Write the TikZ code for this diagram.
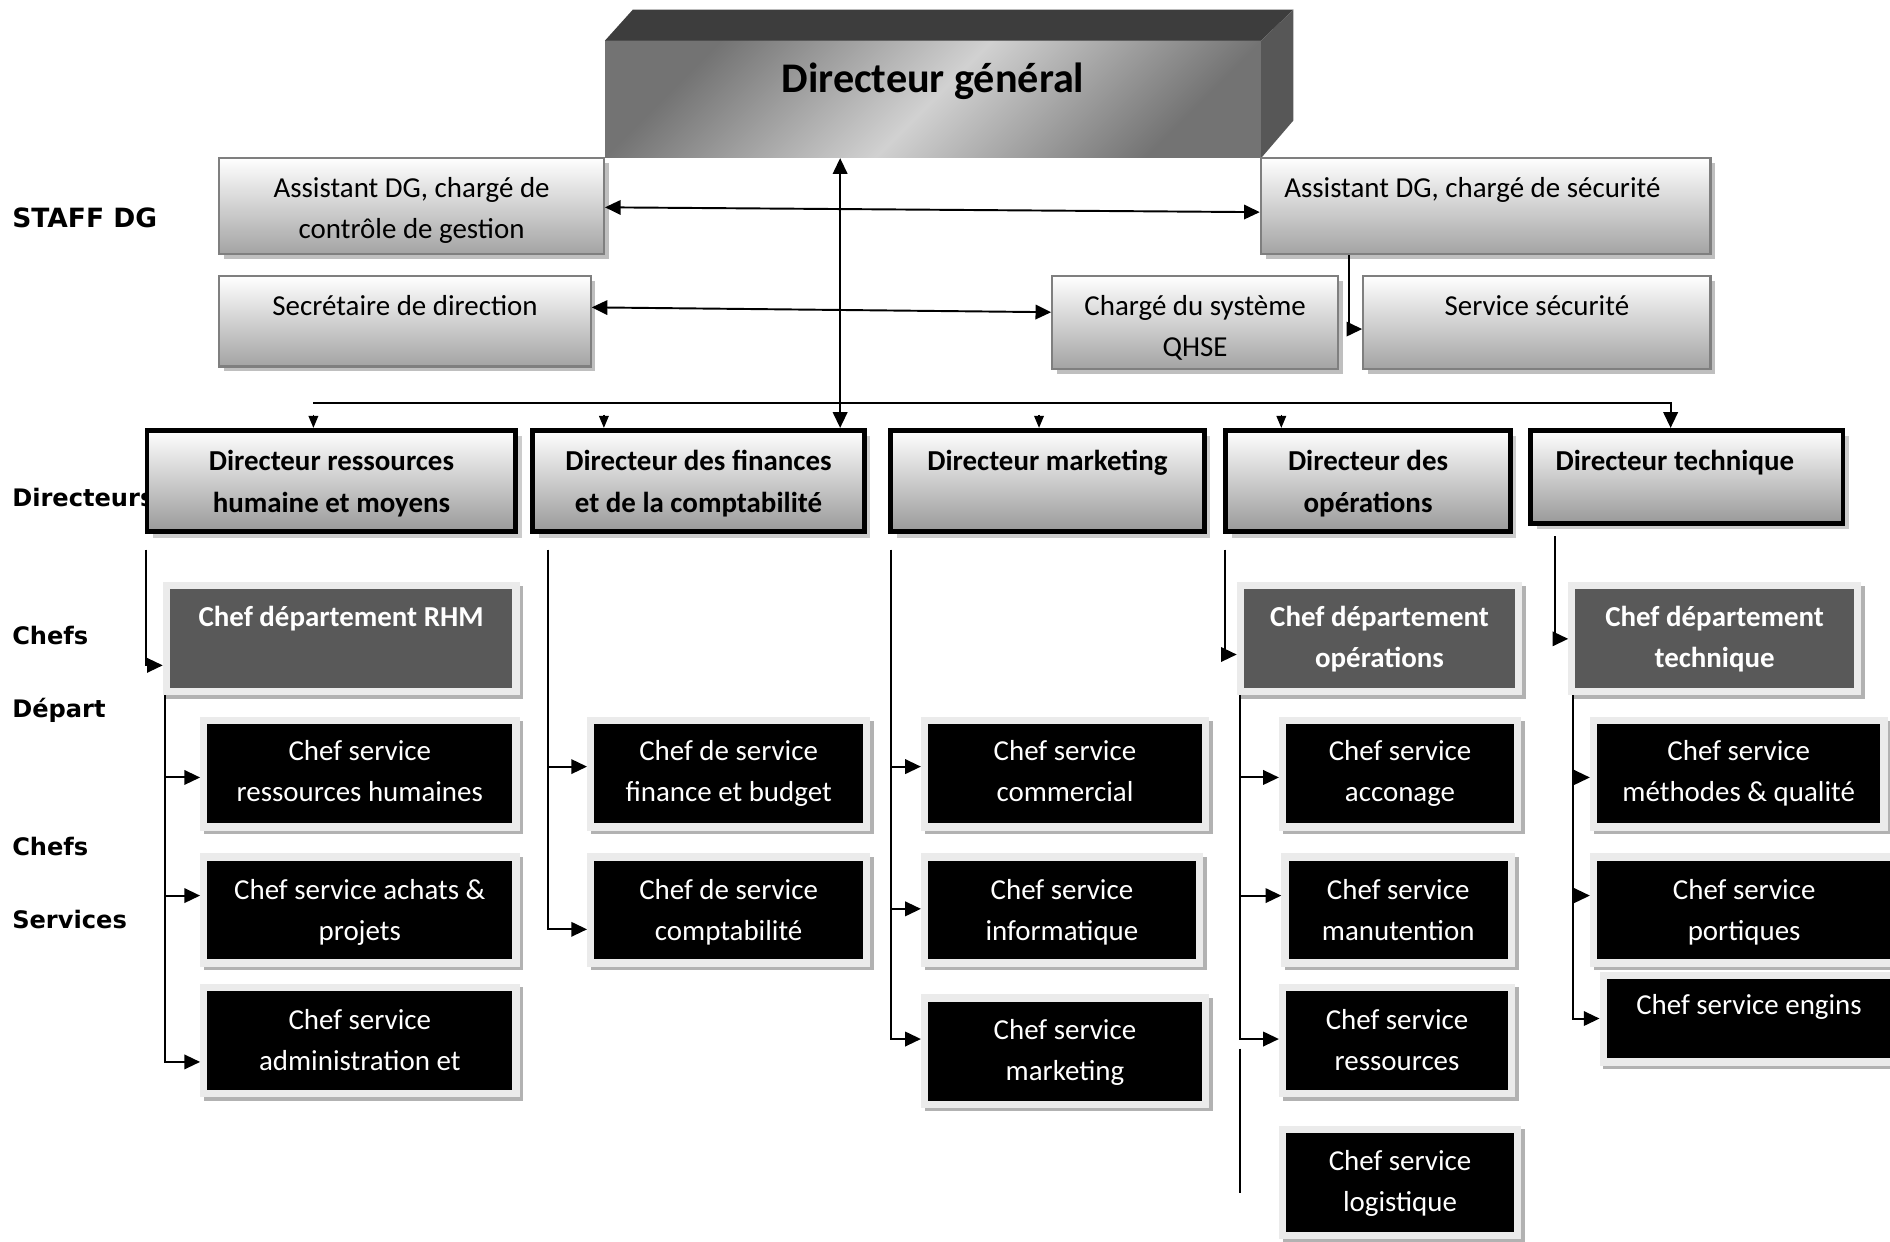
\documentclass[tikz,border=0pt]{standalone}
\usepackage{fontspec}
\setmainfont{Carlito}
\newfontfamily\labfont{DejaVu Sans}
\usetikzlibrary{arrows.meta,shadows}
\definecolor{staffdraw}{HTML}{7F7F7F}
\definecolor{framecol}{HTML}{EBEBEB}
\definecolor{deptfill}{HTML}{595959}
\newcommand\mkbox[8]{\node[#1] (#2) at ({(#3+#5)/2},{(#4+#6)/2}) {\parbox[c][\dimexpr#6pt-#4pt\relax][t]{\dimexpr#5pt-#3pt\relax}{\centering\rule{0pt}{\dimexpr#7pt-#4pt+8pt\relax}#8\par}};}
\newcommand\mkfbox[8]{\node[#1] (#2) at ({(#3+#5)/2},{(#4+#6)/2}) {\parbox[c][\dimexpr#6pt-#4pt+12pt\relax][t]{\dimexpr#5pt-#3pt+12pt\relax}{\centering\rule{0pt}{\dimexpr#7pt-#4pt+14pt\relax}#8\par}};}
\tikzset{
  staffbox/.style={rectangle, inner sep=0pt, draw=staffdraw, line width=1.8pt, top color=white, bottom color=black!36,
    drop shadow={shadow xshift=4pt, shadow yshift=-4pt, fill=black!25, opacity=1}, font=\fontsize{24}{34}\selectfont},
  dirbox/.style={rectangle, inner sep=0pt, draw=black, line width=4pt, top color=white, bottom color=black!40,
    drop shadow={shadow xshift=5pt, shadow yshift=-5pt, fill=black!20, opacity=1}, font=\bfseries\fontsize{24}{35}\selectfont},
  framed/.style={rectangle, inner sep=0pt, outer sep=0pt, fill=framecol,
    drop shadow={shadow xshift=3pt, shadow yshift=-3pt, fill=black!30, opacity=1}, text=white,
    path picture={\fill[#1] ([xshift=6pt,yshift=-6pt]path picture bounding box.north west) rectangle ([xshift=-6pt,yshift=6pt]path picture bounding box.south east);}},
  deptbox/.style={framed=deptfill, font=\bfseries\fontsize{24}{34}\selectfont},
  servbox/.style={framed=black, font=\fontsize{24}{34}\selectfont},
  dgface/.style={rectangle, inner sep=0pt, left color=black!55, right color=black!55, middle color=black!18, shading angle=45,
    font=\bfseries\fontsize{35}{40}\selectfont},
  labstyle/.style={inner sep=0pt, anchor=base west, font=\labfont\bfseries\fontsize{20}{24}\selectfont},
  arr/.style={-{Triangle[length=13pt,width=12pt]}, line width=1.6pt},
  darr/.style={{Triangle[length=13pt,width=12pt]}-{Triangle[length=13pt,width=12pt]}, line width=1.6pt},
  stub/.style={-{Triangle[length=10pt,width=8pt]}, line width=1.3pt},
  ln/.style={line width=1.6pt}
}
\begin{document}
\begin{tikzpicture}[x=1pt,y=-1pt]
\useasboundingbox (0,0) rectangle (1568,1030);
% level labels
\node[labstyle, font=\labfont\bfseries\fontsize{22}{26}\selectfont] (lstaff) at (10,189) {STAFF DG};
\node[labstyle] (ldir) at (10,420) {Directeurs};
\node[labstyle] (lchefs1) at (10,535) {Chefs};
\node[labstyle] (ldep) at (10,595) {Départ};
\node[labstyle] (lchefs2) at (10,710) {Chefs};
\node[labstyle] (lserv) at (10,770) {Services};
% Directeur general (3D block)
\coordinate (tl) at (525,8);
\coordinate (tr) at (1073,8);
\coordinate (br) at (1073,100);
\node[dgface, minimum width=544pt, minimum height=97pt] (dg) at (774,82.5)
  {\parbox[c][97pt][t]{544pt}{\centering\rule{0pt}{43pt}Directeur général}};
\fill[black!76] (dg.north west) -- (tl) -- (tr) -- (dg.north east) -- cycle;
\fill[black!66] (dg.north east) -- (tr) -- (br) -- (dg.south east) -- cycle;
% staff
\mkbox{staffbox}{ac}{182}{131}{501}{211}{156}{Assistant DG, chargé de\\contrôle de gestion}
\mkbox{staffbox}{as}{1046}{131}{1419}{211}{156}{Assistant DG, chargé de sécurité\hspace*{22pt}}
\mkbox{staffbox}{sec}{182}{229}{490}{304}{254}{Secrétaire de direction}
\mkbox{staffbox}{qhse}{873}{229}{1110}{306}{254}{Chargé du système\\QHSE}
\mkbox{staffbox}{ss}{1131}{229}{1419}{306}{254}{Service sécurité}
% directors
\mkbox{dirbox}{drh}{122}{357}{428}{441}{382}{Directeur ressources\\humaine et moyens}
\mkbox{dirbox}{dfin}{442}{357}{717}{441}{382}{Directeur des finances\\et de la comptabilité}
\mkbox{dirbox}{dmkt}{739}{357}{999}{441}{382}{Directeur marketing}
\mkbox{dirbox}{dops}{1017}{357}{1253}{441}{382}{Directeur des\\opérations}
\mkbox{dirbox}{dtech}{1270}{357}{1529}{434}{382}{Directeur technique\hspace*{20pt}}
% departments
\mkfbox{deptbox}{rhm}{141}{489}{425}{571}{512}{Chef département RHM}
\mkfbox{deptbox}{dopsd}{1032}{489}{1257}{571}{512}{Chef département\\opérations}
\mkfbox{deptbox}{dtechd}{1307}{489}{1538}{571}{512}{Chef département\\technique}
% services
\mkfbox{servbox}{srh}{172}{601}{425}{683}{623}{Chef service\\ressources humaines}
\mkfbox{servbox}{sach}{172}{714}{425}{796}{738}{Chef service achats \&\\projets}
\mkfbox{servbox}{sadm}{172}{822}{425}{904}{846}{Chef service\\administration et}
\mkfbox{servbox}{sfb}{493}{601}{716}{683}{623}{Chef de service\\finance et budget}
\mkfbox{servbox}{scpt}{493}{714}{716}{796}{738}{Chef de service\\comptabilité}
\mkfbox{servbox}{scom}{770}{601}{997}{683}{623}{Chef service\\commercial}
\mkfbox{servbox}{sinf}{770}{714}{992}{796}{738}{Chef service\\informatique}
\mkfbox{servbox}{smkt}{770}{831}{997}{913}{854}{Chef service\\marketing}
\mkfbox{servbox}{sacc}{1067}{601}{1256}{683}{623}{Chef service\\acconage}
\mkfbox{servbox}{sman}{1069}{714}{1251}{796}{738}{Chef service\\manutention}
\mkfbox{servbox}{sres}{1067}{822}{1251}{904}{846}{Chef service\\ressources}
\mkfbox{servbox}{slog}{1067}{940}{1256}{1022}{963}{Chef service\\logistique}
\mkfbox{servbox}{smeth}{1325}{601}{1560}{683}{623}{Chef service\\méthodes \& qualité}
\mkfbox{servbox}{sport}{1325}{714}{1569}{796}{738}{Chef service\\portiques}
\mkfbox{servbox}{seng}{1333}{812}{1569}{878}{834}{Chef service engins}
% staff connectors
\draw[darr] (ac.east |- 0,172) -- (as.west |- 0,176);
\draw[darr] (sec.east |- 0,255) -- (qhse.west |- 0,259);
\draw[arr] (as.south -| 1119,0) |- (ss.west |- 0,273);
\draw[darr] (dg.south -| 697,0) -- (dfin.north -| 697,0);
% bus to directors
\coordinate (busL) at (260,334);
\coordinate (busR) at (1386,334);
\draw[arr] (busL) -- (busR) -- (dtech.north -| busR);
\coordinate (st1) at (260,344);
\coordinate (st2) at (501,344);
\coordinate (st3) at (862,344);
\coordinate (st4) at (1063,344);
\draw[stub] (st1) -- (drh.north -| st1);
\draw[stub] (st2) -- (dfin.north -| st2);
\draw[stub] (st3) -- (dmkt.north -| st3);
\draw[stub] (st4) -- (dops.north -| st4);
% RH column
\coordinate (rhtop) at (121,456);
\draw[arr] (rhtop) |- (rhm.west |- 0,552);
\draw[arr] (rhm.south -| 137,0) |- (sadm.west |- 0,881);
\draw[arr] (137,645) -- (srh.west |- 0,645);
\draw[arr] (137,743) -- (sach.west |- 0,743);
% finance column
\coordinate (fintop) at (455,456);
\draw[arr] (fintop) |- (scpt.west |- 0,771);
\draw[arr] (455,636) -- (sfb.west |- 0,636);
% marketing column
\coordinate (mkttop) at (739,456);
\draw[arr] (mkttop) |- (smkt.west |- 0,862);
\draw[arr] (739,636) -- (scom.west |- 0,636);
\draw[arr] (739,754) -- (sinf.west |- 0,754);
% operations column
\coordinate (opstop) at (1016,456);
\draw[arr] (opstop) |- (dopsd.west |- 0,543);
\draw[arr] (dopsd.south -| 1029,0) |- (sres.west |- 0,862);
\draw[arr] (1029,645) -- (sacc.west |- 0,645);
\draw[arr] (1029,743) -- (sman.west |- 0,743);
\coordinate (opsA) at (1029,870);
\coordinate (opsB) at (1029,990);
\draw[ln] (opsA) -- (opsB);
% technical column
\coordinate (techtop) at (1290,445);
\draw[arr] (techtop) |- (dtechd.west |- 0,530);
\draw[arr] (dtechd.south -| 1305,0) |- (seng.west |- 0,845);
\draw[arr] (1305,645) -- (smeth.west |- 0,645);
\draw[arr] (1305,743) -- (sport.west |- 0,743);
\end{tikzpicture}
\end{document}
